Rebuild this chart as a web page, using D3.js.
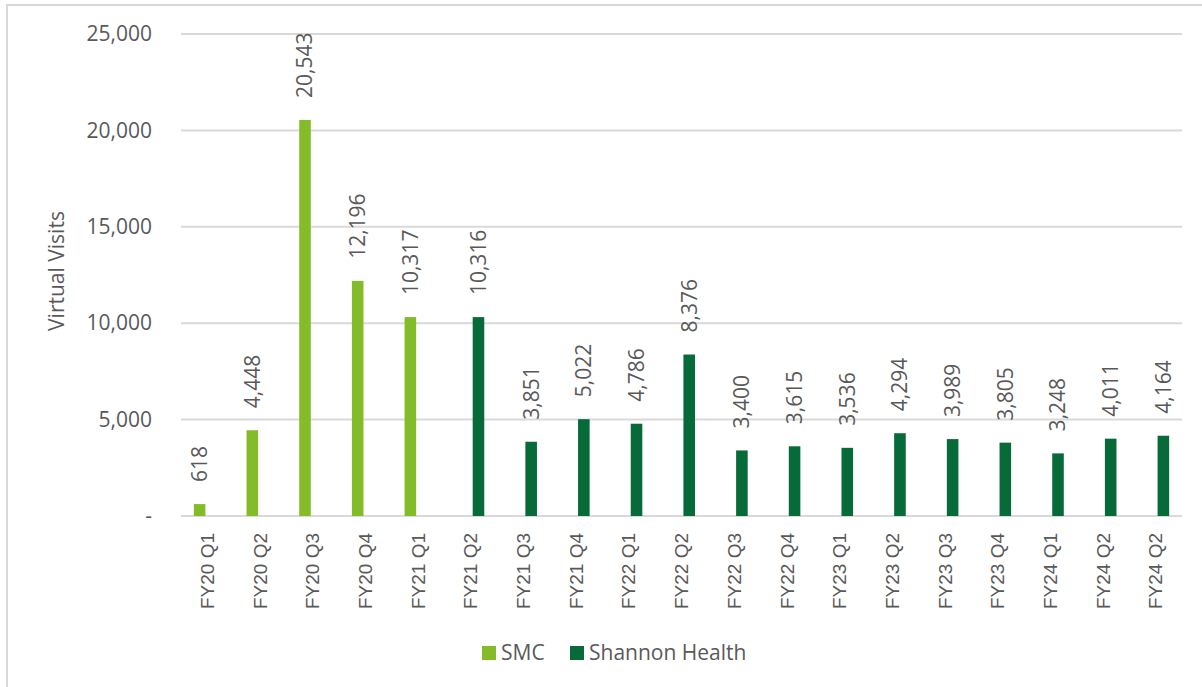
<!DOCTYPE html>
<html>
<head>
<meta charset="utf-8">
<script src="https://cdn.jsdelivr.net/npm/d3@7"></script>
<style>
  body { margin: 0; background: #fff; }
  svg text { fill: #595959; }
</style>
</head>
<body>
<div id="chart"></div>
<script>
// data
var categories = ["FY20 Q1", "FY20 Q2", "FY20 Q3", "FY20 Q4", "FY21 Q1", "FY21 Q2", "FY21 Q3", "FY21 Q4",
    "FY22 Q1", "FY22 Q2", "FY22 Q3", "FY22 Q4", "FY23 Q1", "FY23 Q2", "FY23 Q3", "FY23 Q4",
    "FY24 Q1", "FY24 Q2", "FY24 Q2 "];
var smcValues = [618, 4448, 20543, 12196, 10317, null, null, null, null, null, null, null, null, null, null, null, null, null, null];
var shannonValues = [null, null, null, null, null, 10316, 3851, 5022, 4786, 8376, 3400, 3615, 3536, 4294, 3989, 3805, 3248, 4011, 4164];
var seriesNames = ["SMC", "Shannon Health"];
var seriesColors = ["#84bb29", "#066b38"];
var yTicks = [0, 5000, 10000, 15000, 20000, 25000];

var W = 1202, H = 687;
var margin = {top: 34, left: 181};
var width = 1182 - margin.left, height = 516 - margin.top;

var svg = d3.select("#chart").append("svg")
    .attr("width", W).attr("height", H);

// chart frame (only top and left edge show)
svg.append("rect")
    .attr("x", 7).attr("y", 5)
    .attr("width", W).attr("height", H)
    .attr("fill", "none").attr("stroke", "#d9d9d9").attr("stroke-width", 2);

var g = svg.append("g").attr("transform", "translate(" + margin.left + "," + margin.top + ")");

var x = d3.scaleBand().domain(categories).range([0, width]).padding(0);
var x1 = d3.scaleBand().domain([0, 1]).range([x.bandwidth() / 2 - 13.5, x.bandwidth() / 2 + 13.5]).paddingInner(0.25);
var y = d3.scaleLinear().domain([0, 25000]).range([height, 0]);

var fmt = d3.format(",");

// gridlines
g.selectAll("line.grid").data(yTicks).enter().append("line")
    .attr("class", "grid")
    .attr("x1", 0).attr("x2", width)
    .attr("y1", function(d) { return y(d); }).attr("y2", function(d) { return y(d); })
    .attr("stroke", "#d9d9d9").attr("stroke-width", 2);

// y axis labels
var yAxis = d3.axisLeft(y).tickValues(yTicks).tickSize(0).tickPadding(29)
    .tickFormat(function(d) { return d === 0 ? "-" : fmt(d); });
var ya = g.append("g").call(yAxis);
ya.select(".domain").remove();
ya.selectAll("text").style("font-family", "'Open Sans', sans-serif").style("font-size", "21px").style("fill", "#595959");

// x axis labels
var xAxis = d3.axisBottom(x).tickSize(0).tickPadding(0);
var xa = g.append("g").attr("transform", "translate(0," + height + ")").call(xAxis);
xa.select(".domain").remove();
xa.selectAll("text")
    .style("font-family", "'Liberation Sans', Arial, sans-serif").style("font-size", "19px").style("fill", "#595959")
    .attr("text-anchor", "end")
    .attr("dy", "0.35em")
    .attr("transform", "translate(0,17) rotate(-90)")
    .attr("x", 0).attr("y", 0);

var series = [smcValues, shannonValues];
series.forEach(function(vals, si) {
    var pts = categories.map(function(c, i) { return {c: c, v: vals[i]}; })
        .filter(function(d) { return d.v != null; });
    g.selectAll("rect.s" + si).data(pts).enter().append("rect")
        .attr("class", "s" + si)
        .attr("x", function(d) { return x(d.c) + x1(si); })
        .attr("width", x1.bandwidth())
        .attr("y", function(d) { return y(d.v); })
        .attr("height", function(d) { return height - y(d.v); })
        .attr("fill", seriesColors[si]);
    g.selectAll("text.l" + si).data(pts).enter().append("text")
        .attr("class", "l" + si)
        .attr("transform", function(d) {
            return "translate(" + (x(d.c) + x1(si) + x1.bandwidth() / 2) + "," + (y(d.v) - 22) + ") rotate(-90)";
        })
        .attr("dy", "0.35em")
        .attr("text-anchor", "start")
        .style("font-family", "'Open Sans', sans-serif").style("font-size", "21px")
        .text(function(d) { return fmt(d.v); });
});

// y axis title
svg.append("text")
    .attr("transform", "translate(57,271) rotate(-90)")
    .attr("text-anchor", "middle").attr("dy", "0.35em")
    .style("font-family", "'Open Sans', sans-serif").style("font-size", "21px")
    .text("Virtual Visits");

// legend
var legend = svg.append("g").attr("transform", "translate(482,646)");
var lx = [0, 88];
seriesNames.forEach(function(name, i) {
    legend.append("rect").attr("x", lx[i]).attr("y", 0).attr("width", 14).attr("height", 14).attr("fill", seriesColors[i]);
    legend.append("text").attr("x", lx[i] + 19).attr("y", 7).attr("dy", "0.35em")
        .style("font-family", "'Open Sans', sans-serif").style("font-size", "21px")
        .text(name);
});
</script>
</body>
</html>
